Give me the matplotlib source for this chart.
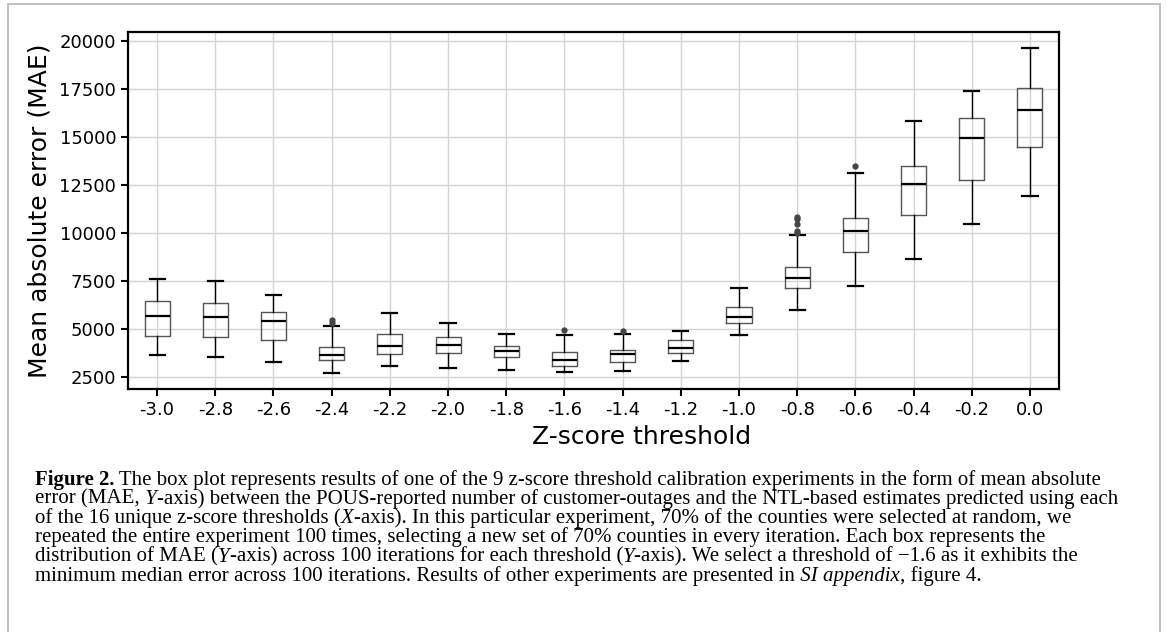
import matplotlib
matplotlib.use("Agg")
import matplotlib.pyplot as plt
from matplotlib.ticker import MultipleLocator
from matplotlib.patches import Rectangle

plt.rcParams['font.family'] = ['DejaVu Sans']

# z-score thresholds (x axis)
thresholds = ["-3.0", "-2.8", "-2.6", "-2.4", "-2.2", "-2.0", "-1.8", "-1.6",
              "-1.4", "-1.2", "-1.0", "-0.8", "-0.6", "-0.4", "-0.2", "0.0"]

# box plot stats of MAE
whislo = [3646, 3542, 3281, 2724, 3073, 2969, 2865, 2760, 2812, 3333, 4687, 5990, 7240, 8646, 10469, 11927]
q1 = [4620, 4568, 4427, 3368, 3681, 3733, 3542, 3073, 3281, 3750, 5295, 7135, 9026, 10953, 12760, 14463]
med = [5693, 5625, 5417, 3646, 4115, 4167, 3854, 3385, 3715, 4010, 5625, 7672, 10104, 12552, 14964, 16421]
q3 = [6458, 6370, 5901, 4078, 4722, 4601, 4132, 3802, 3923, 4445, 6161, 8229, 10797, 13505, 15989, 17568]
whishi = [7620, 7500, 6770, 5156, 5833, 5312, 4757, 4687, 4740, 4896, 7135, 9896, 13125, 15833, 17396, 19635]
fliers = [[], [], [], [5330, 5450], [], [], [], [4964], [4912], [], [],
          [10020, 10120, 10470, 10730, 10820], [13505], [], [], []]

# caption lines as (text, style) pieces; spaces go at the start of a piece
caption = [
    [("Figure 2.", "b"), (" The box plot represents results of one of the 9 z-score threshold calibration experiments in the form of mean absolute", "n")],
    [("error (MAE,", "n"), (" Y", "i"), ("-axis) between the POUS-reported number of customer-outages and the NTL-based estimates predicted using each", "n")],
    [("of the 16 unique z-score thresholds (", "n"), ("X", "i"), ("-axis). In this particular experiment, 70% of the counties were selected at random, we", "n")],
    [("repeated the entire experiment 100 times, selecting a new set of 70% counties in every iteration. Each box represents the", "n")],
    [("distribution of MAE (", "n"), ("Y", "i"), ("-axis) across 100 iterations for each threshold (", "n"), ("Y", "i"),
     ("-axis). We select a threshold of \u22121.6 as it exhibits the", "n")],
    [("minimum median error across 100 iterations. Results of other experiments are presented in", "n"), (" SI appendix", "i"), (", figure 4.", "n")],
]

stats = []
for i in range(len(thresholds)):
    stats.append({"whislo": whislo[i], "q1": q1[i], "med": med[i], "q3": q3[i],
                  "whishi": whishi[i], "fliers": fliers[i], "label": thresholds[i]})

fig = plt.figure(figsize=(11.67, 6.32), dpi=100)
ax = fig.add_axes([0.1097, 0.3845, 0.7978, 0.5649])

ax.bxp(stats, widths=0.43, capwidths=0.26,
       boxprops=dict(color="#555555", linewidth=1.0),
       medianprops=dict(color="black", linewidth=1.6),
       whiskerprops=dict(color="black", linewidth=1.0),
       capprops=dict(color="black", linewidth=1.6),
       flierprops=dict(marker="o", markersize=3.5, markerfacecolor="#444444",
                       markeredgecolor="#444444"))

ax.yaxis.set_major_locator(MultipleLocator(2500))
ax.grid(True, color="#d4d4d4", linewidth=1.0)
ax.set_axisbelow(True)
for s in ax.spines.values():
    s.set_linewidth(1.6)
ax.tick_params(labelsize=13, width=1.5, length=5)

ax.set_ylabel("Mean absolute error (MAE)", fontsize=18, labelpad=6)
ax.set_xlabel("Z-score threshold", fontsize=18)
ax.xaxis.set_label_coords(0.552, -0.1)

# caption under the chart, piece by piece
renderer = fig.canvas.get_renderer()
styles = {"n": dict(style="normal", weight="normal"),
          "b": dict(style="normal", weight="bold"),
          "i": dict(style="italic", weight="normal")}
for i, line in enumerate(caption):
    y = 1 - (484.5 + 19.3 * i) / 632
    x = 35
    for txt, st in line:
        t = fig.text(x / 1167, y, txt, fontsize=15, family="Liberation Serif",
                     va="baseline", ha="left", **styles[st])
        x += t.get_window_extent(renderer).width

# light frame around the figure
fig.add_artist(Rectangle((8 / 1167, -0.05), 1152 / 1167, 1.05 - 4 / 632,
                         transform=fig.transFigure, fill=False,
                         edgecolor="#b5b5b5", linewidth=1.2))

fig.savefig("out.png", dpi=100)
